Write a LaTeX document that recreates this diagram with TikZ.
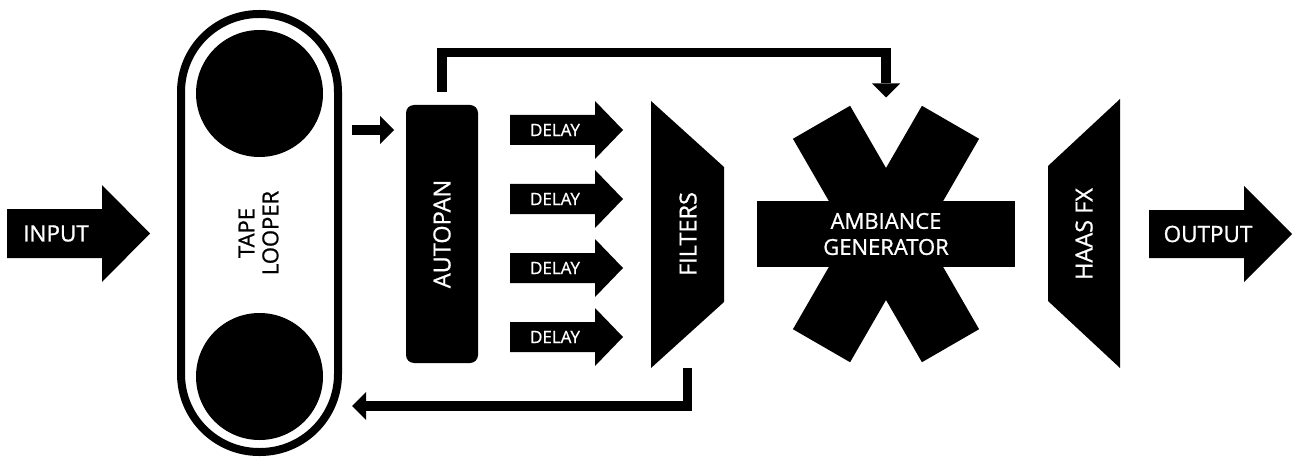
\documentclass[tikz,border=0pt]{standalone}
\usepackage{fontspec}
\setmainfont{Open Sans}[FakeBold=0.9]
\usetikzlibrary{arrows.meta,calc}
\begin{document}
\begin{tikzpicture}[x=1pt,y=-1pt,
  every node/.style={inner sep=0pt, outer sep=0pt},
  wlbl/.style={text=white, align=center, font=\fontsize{22.5}{26}\selectfont},
  vlbl/.style={text=white, rotate=90, font=\fontsize{23.5}{27}\selectfont},
  dlbl/.style={text=white, font=\fontsize{17}{20}\selectfont},
  conn/.style={line width=9.5pt, line join=miter,
    -{Triangle[length=14pt,width=28pt,line width=0pt]}},
  reel/.style={circle, fill=black, minimum size=127pt}]
\useasboundingbox (0,0) rectangle (1292,457);

% helper rows for the connectors
\coordinate (row1) at (0,130);
\coordinate (toprow) at (0,52.5);
\coordinate (botrow) at (0,406);

% input arrow
\fill (7,209) -- (102,209) -- (102,185) -- (150,233.5) -- (102,282) -- (102,258) -- (7,258) -- cycle;
\node[wlbl] (input) at (56,233.5) {INPUT};

% tape looper: loop outline with two reels
\node[draw, line width=8pt, rounded corners=78pt, minimum width=157pt,
      minimum height=438pt, outer sep=4pt] (tape) at (259.5,233) {};
\node[reel] (reel1) at (259.5,93.5) {};
\node[reel] (reel2) at (259.5,376.5) {};
\node[rotate=90, align=center, font=\fontsize{22}{24}\selectfont] (tapetxt) at (258.5,233) {TAPE\\LOOPER};

% autopan
\node[fill=black, rounded corners=8pt, minimum width=72pt, minimum height=258pt] (autopan) at (442,234) {};
\node[vlbl] (autopantxt) at (442,234) {AUTOPAN};

% four delay lines
\foreach \i/\y in {1/130,2/199,3/268,4/337} {
  \fill (510,{\y-15}) -- (595,{\y-15}) -- (595,{\y-29}) -- (623,\y)
        -- (595,{\y+29}) -- (595,{\y+15}) -- (510,{\y+15}) -- cycle;
  \node[dlbl] (delay\i) at (555,\y) {DELAY};
}

% filters
\node[minimum width=73pt, minimum height=267pt] (filt) at (687.5,234.5) {};
\fill (filt.north west) -- ($(filt.north east)+(0,66)$) -- ($(filt.south east)+(0,-66)$)
      -- (filt.south west) -- cycle;
\node[vlbl] (filttxt) at (688,234) {FILTERS};

% ambiance generator (six-armed star)
\node[minimum width=258pt, minimum height=256pt] (amb) at (886,234) {};
\foreach \a in {0,60,120}
  \fill[shift={(amb.center)}, rotate=\a] (-129,-33) rectangle (129,33);
\node[wlbl, font=\fontsize{22}{26}\selectfont] (ambtxt) at (886,234) {AMBIANCE\\GENERATOR};

% haas fx
\node[minimum width=72pt, minimum height=269pt] (haas) at (1084,233.5) {};
\fill (haas.north east) -- (haas.south east) -- ($(haas.south west)+(0,-67)$)
      -- ($(haas.north west)+(0,67)$) -- cycle;
\node[vlbl] (haastxt) at (1084,234) {HAAS FX};

% output arrow
\fill (1149,210) -- (1244,210) -- (1244,186) -- (1292,234) -- (1244,282) -- (1244,258) -- (1149,258) -- cycle;
\node[wlbl] (output) at (1208,234) {OUTPUT};

% signal connectors
\draw[conn, shorten <=10pt, shorten >=12pt] (tape.east |- row1) -- (autopan.west |- row1);
\draw[conn, shorten <=13pt, shorten >=8.5pt] (autopan.north) |- (toprow -| amb.north) -- (amb.north);
\draw[conn, shorten >=10pt] (filt.south) |- (tape.east |- botrow);
\end{tikzpicture}
\end{document}
